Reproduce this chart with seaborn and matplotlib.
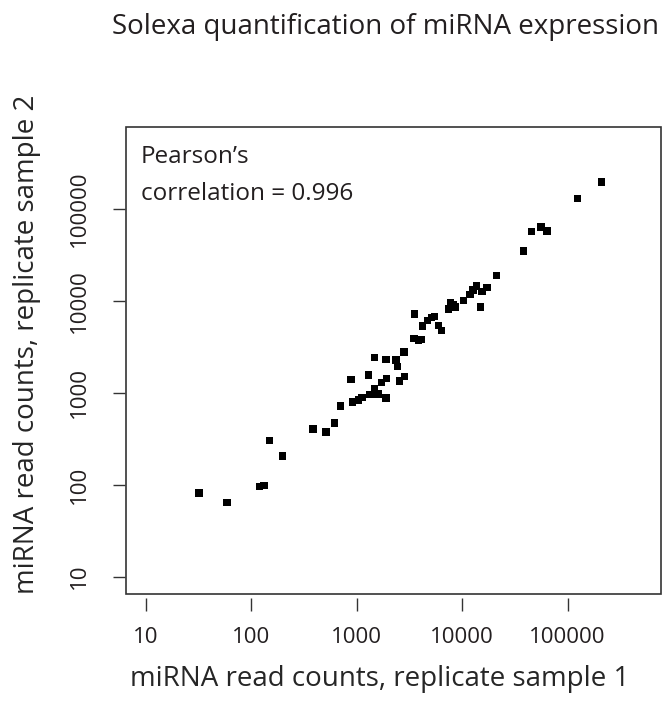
import numpy as np
import pandas as pd
import matplotlib
matplotlib.use("Agg")
import matplotlib.pyplot as plt
import seaborn as sns
from matplotlib.patches import Rectangle

# read counts per miRNA
sample1 = [32, 59, 120, 132, 150, 198, 385, 512, 619, 705,
           883, 911, 1044, 1123, 1300, 1337, 1472, 1472, 1593, 1715,
           1896, 1924, 1896, 2360, 2433, 2542, 2833, 2808, 3491, 3843,
           4130, 3548, 4226, 4715, 5140, 5485, 5945, 6393, 7398, 7728,
           8180, 8548, 10260, 11850, 12650, 13710, 15400, 14970, 17180, 21090,
           38260, 45570, 55870, 63680, 124500, 211300]
sample2 = [81, 64, 96, 98, 300, 205, 402, 373, 467, 719,
           1403, 789, 836, 894, 1560, 953, 2404, 1119, 971, 1288,
           2311, 1423, 879, 2271, 1940, 1343, 1510, 2774, 3906, 3743,
           3774, 7178, 5308, 6063, 6535, 6700, 5408, 4722, 8130, 9612,
           9137, 8546, 10100, 11620, 13060, 14440, 12530, 8546, 13840, 18680,
           34670, 56750, 63680, 57560, 129500, 196000]

tick_values = [10, 100, 1000, 10000, 100000]
tick_labels = ["10", "100", "1000", "10000", "100000"]
pearson_r = 0.996

df = pd.DataFrame({"s1": sample1, "s2": sample2})

sns.set_theme(style="white")
plt.rcParams["font.family"] = ["Open Sans", "DejaVu Sans"]
plt.rcParams["text.color"] = "#231f20"

fig = plt.figure(figsize=(6.63, 7.07), dpi=100)
ax = fig.add_axes([0.190, 0.160, 0.807, 0.660])

sns.scatterplot(data=df, x="s1", y="s2", marker="s", s=28, color="black",
                edgecolor="none", linewidth=0, ax=ax, legend=False)

ax.set_xscale("log")
ax.set_yscale("log")
# R style limits: data range 10..5e5 padded by 4%
lo, hi = 1.0, np.log10(500000)
pad = 0.04 * (hi - lo)
ax.set_xlim(10 ** (lo - pad), 10 ** (hi + pad))
ax.set_ylim(10 ** (lo - pad), 10 ** (hi + pad))

# detached ticks, box drawn separately (set spines first: it resets ticks)
for side in ["top", "right", "bottom", "left"]:
    ax.spines[side].set_visible(False)
ax.spines["bottom"].set_position(("outward", 3))
ax.spines["left"].set_position(("outward", 1))
ax.add_patch(Rectangle((0, 0), 1, 1, transform=ax.transAxes, fill=False,
                       edgecolor="#333333", linewidth=1.2, clip_on=False))

ax.xaxis.set_minor_locator(matplotlib.ticker.NullLocator())
ax.yaxis.set_minor_locator(matplotlib.ticker.NullLocator())
ax.set_xticks(tick_values, tick_labels)
ax.set_yticks(tick_values, tick_labels)
ax.tick_params(axis="both", direction="out", length=9, width=1.0,
               color="#333333", labelsize=16, labelcolor="#231f20",
               bottom=True, left=True)
ax.tick_params(axis="x", pad=12)
ax.tick_params(axis="y", pad=16, labelrotation=90)
plt.setp(ax.get_yticklabels(), va="center")

ax.set_xlabel("miRNA read counts, replicate sample 1", fontsize=20, labelpad=12)
ax.set_ylabel("miRNA read counts, replicate sample 2", fontsize=20, labelpad=20)
ax.xaxis.label.set_x(0.475)
ax.yaxis.label.set_y(0.535)

ax.text(0.028, 0.962, "Pearson\u2019s\ncorrelation = {:.3f}".format(pearson_r),
        transform=ax.transAxes, ha="left", va="top", fontsize=17.5,
        linespacing=1.7)

fig.text(0.581, 0.962, "Solexa quantification of miRNA expression",
         ha="center", va="center", fontsize=20)

fig.savefig("out.png", dpi=100)
